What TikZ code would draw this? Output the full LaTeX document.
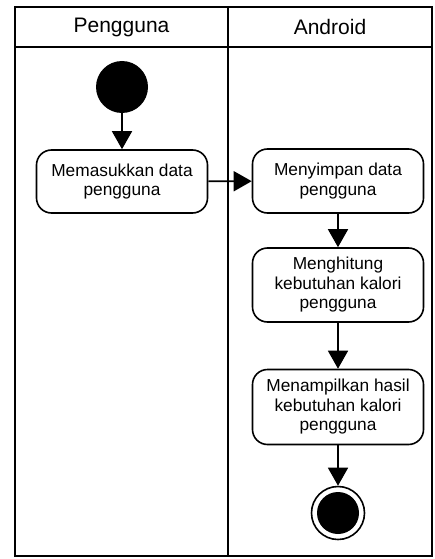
\documentclass[tikz,border=0pt]{standalone}
\usepackage{fontspec}
\setmainfont{Liberation Sans}
\usetikzlibrary{arrows.meta}
\begin{document}
\begin{tikzpicture}[x=1pt,y=-1pt,
  lane/.style={line width=1.8pt},
  act/.style={draw, line width=1.6pt, rounded corners=15pt, align=center, font=\fontsize{17.3}{19.5}\selectfont, inner sep=0pt},
  flow/.style={line width=1.6pt, -{Triangle[length=18pt,width=20pt]}},
  hdr/.style={font=\fontsize{21}{24}\selectfont}]
\useasboundingbox (0,0) rectangle (435,559);
% swimlane frame
\draw[lane] (15,7) rectangle (432,556);
\draw[lane] (15,47) -- (432,47);
\draw[lane] (228,7) -- (228,556);
\node[hdr] (h1) at (121.5,27) {Pengguna};
\node[hdr] (h2) at (330,27) {Android};
% start
\node[circle, fill=black, minimum size=52pt, inner sep=0pt] (start) at (122,87) {};
% activities
\node[act, minimum width=171pt, minimum height=63pt] (a1) at (122,181.5) {Memasukkan data\\pengguna};
\node[act, minimum width=171pt, minimum height=64pt] (a2) at (338,181) {Menyimpan data\\pengguna};
\node[act, minimum width=171pt, minimum height=74pt] (a3) at (338,285) {Menghitung\\kebutuhan kalori\\pengguna};
\node[act, minimum width=171pt, minimum height=75pt] (a4) at (338,407) {Menampilkan hasil\\kebutuhan kalori\\pengguna};
% end
\node[circle, draw, line width=1.6pt, minimum size=53pt, inner sep=0pt] (end) at (338,513) {};
\node[circle, fill=black, minimum size=42pt, inner sep=0pt] (endin) at (end.center) {};
% flows
\draw[flow] (start) -- (a1);
\draw[flow] (a1) -- (a2);
\draw[flow] (a2) -- (a3);
\draw[flow] (a3) -- (a4);
\draw[flow] (a4) -- (end);
\end{tikzpicture}
\end{document}
